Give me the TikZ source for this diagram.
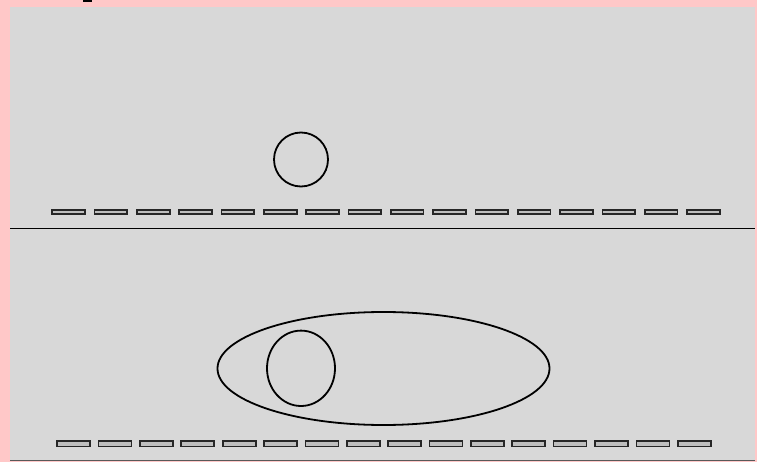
\documentclass[tikz,border=0pt]{standalone}
\usetikzlibrary{calc}
\definecolor{bgpink}{RGB}{255,200,200}
\definecolor{panel}{RGB}{216,216,216}
\definecolor{dashfill}{RGB}{190,190,190}
\tikzset{
  px/.style={x=1pt,y=-1pt},
  outline/.style={draw=black,line width=1.8pt},
  tile/.style={draw=black!85,line width=1.7pt,fill=dashfill}
}
\begin{document}
\begin{tikzpicture}[px]
\useasboundingbox (0,0) rectangle (757,462);
\fill[bgpink] (0,0) rectangle (757,462);
\fill[panel] (10,7) rectangle (755,460);
\draw[gray!70!black,line width=1pt] (10,460) -- (755,460);
\fill[black] (83,0) rectangle (92,2.5);
% divider
\coordinate (dl) at (10,228.5);
\coordinate (dr) at (755,228.5);
\draw[line width=1.8pt] (dl) -- (dr);
% top row of tiles
\foreach \i in {0,...,15}{
  \draw[tile] ({52.2+42.33*\i},209.8) rectangle ++(32.8,4.3);
}
% top ball
\node[outline,circle,minimum size=54pt,inner sep=0pt] (ball) at (301,159.5) {};
% bottom row of tiles
\foreach \i in {0,...,15}{
  \draw[tile] ({57.2+41.37*\i},441) rectangle ++(33,5.5);
}
% bottom: stretched outer ellipse and inner ball
\draw[outline] (383.5,368.5) ellipse [x radius=166, y radius=56.5];
\draw[outline] (301,368.3) ellipse [x radius=34, y radius=37.7];
\end{tikzpicture}
\end{document}
